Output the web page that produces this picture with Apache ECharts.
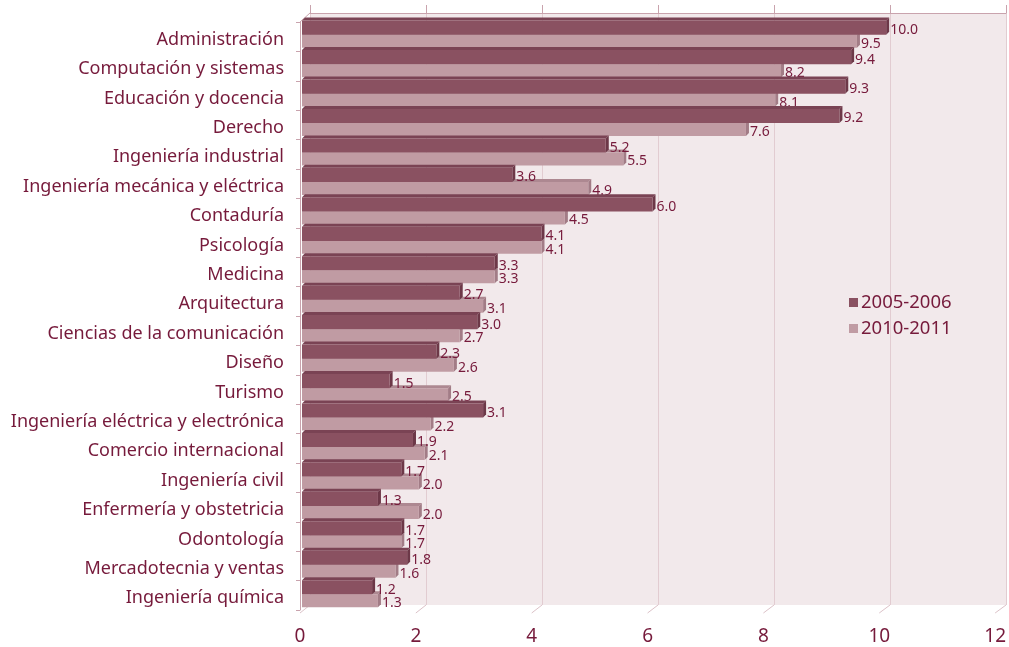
<!DOCTYPE html>
<html><head><meta charset="utf-8">
<script src="https://cdn.jsdelivr.net/npm/echarts@6/dist/echarts.min.js"></script>
<style>html,body{margin:0;padding:0;background:#fff}#c{width:1009px;height:647px}</style>
</head><body><div id="c"></div>
<script>
const categories = ["Administración","Computación y sistemas","Educación y docencia","Derecho","Ingeniería industrial","Ingeniería mecánica y eléctrica","Contaduría","Psicología","Medicina","Arquitectura","Ciencias de la comunicación","Diseño","Turismo","Ingeniería eléctrica y electrónica","Comercio internacional","Ingeniería civil","Enfermería y obstetricia","Odontología","Mercadotecnia y ventas","Ingeniería química"];
const series2005 = [10.0,9.4,9.3,9.2,5.2,3.6,6.0,4.1,3.3,2.7,3.0,2.3,1.5,3.1,1.9,1.7,1.3,1.7,1.8,1.2];
const series2010 = [9.5,8.2,8.1,7.6,5.5,4.9,4.5,4.1,3.3,3.1,2.7,2.6,2.5,2.2,2.1,2.0,2.0,1.7,1.6,1.3];
const seriesNames = ["2005-2006","2010-2011"];
const xTicks = [0,2,4,6,8,10,12];

const W = 1009, H = 647;
const TXT = '#761a3b';
const FONT = '"Noto Sans", sans-serif';
const G0 = {left:310, right:3, top:13, bottom:42};   // back wall
const G1 = {left:300, right:13, top:22, bottom:37};  // front axes
const G2 = {left:302, right:6, top:20, bottom:38};   // bars
const G3 = {left:300, right:13, top:25, bottom:34};  // category labels
const D = 3;
const styles = [
  {front:'#8a5161', top:'#7a4354', side:'#6d3848', off:-0.48, h:0.48},
  {front:'#c09ba3', top:'#ad8891', side:'#a27c86', off:0.0, h:0.44}
];

function makeRender(si){
  const st = styles[si];
  return function(params, api){
    const v = api.value(0), ci = api.value(1);
    const p0 = api.coord([0, ci]);
    const p1 = api.coord([v, ci]);
    const bw = api.size([0,1])[1];
    const x = p0[0], w = p1[0]-p0[0];
    const y0 = p0[1] + st.off*bw, h = st.h*bw;
    return {type:'group', children:[
      {type:'polygon', shape:{points:[[x,y0],[x+D,y0-D],[x+w+D,y0-D],[x+w,y0]]}, style:{fill:st.top}},
      {type:'polygon', shape:{points:[[x+w,y0],[x+w+D,y0-D],[x+w+D,y0+h-D],[x+w,y0+h]]}, style:{fill:st.side}},
      {type:'rect', shape:{x:x, y:y0, width:w, height:h}, style:{fill:st.front}},
      {type:'text', style:{text:v.toFixed(1), x:x+w+D+1, y:y0+h/2+2.5, fill:TXT, font:'14px '+FONT, align:'left', verticalAlign:'middle'}}
    ]};
  };
}

const chart = echarts.init(document.getElementById('c'), null, {renderer:'canvas'});
const option = {
  animation:false,
  backgroundColor:'#ffffff',
  grid:[
    Object.assign({show:true, backgroundColor:'#f2e9eb', borderWidth:0}, G0),
    Object.assign({}, G1),
    Object.assign({}, G2),
    Object.assign({}, G3)
  ],
  xAxis:[
    {gridIndex:0, type:'value', position:'top', min:0, max:12, interval:2,
     axisLine:{show:true, lineStyle:{color:'#c9a3ad', width:1}},
     axisTick:{show:true, length:8, lineStyle:{color:'#c9a3ad'}},
     axisLabel:{show:false},
     splitLine:{show:true, lineStyle:{color:'#e2ccd1', width:1}}},
    {gridIndex:1, type:'value', min:0, max:12, interval:2,
     axisLine:{show:false}, axisTick:{show:false}, splitLine:{show:false},
     axisLabel:{show:true, color:TXT, fontSize:19, fontFamily:FONT, margin:17}},
    {gridIndex:2, type:'value', min:0, max:12, show:false},
    {gridIndex:3, type:'value', min:0, max:12, show:false}
  ],
  yAxis:[
    {gridIndex:0, type:'category', data:categories, inverse:true, show:false},
    {gridIndex:1, type:'category', data:categories, inverse:true,
     axisLine:{show:true, lineStyle:{color:'#c9a3ad'}},
     axisTick:{show:true, length:4, lineStyle:{color:'#c9a3ad'}},
     axisLabel:{show:false},
     splitLine:{show:false}},
    {gridIndex:2, type:'category', data:categories, inverse:true, show:false},
    {gridIndex:3, type:'category', data:categories, inverse:true,
     axisLine:{show:false}, axisTick:{show:false}, splitLine:{show:false},
     axisLabel:{color:TXT, fontSize:18, fontFamily:FONT, margin:16}}
  ],
  legend:{
    orient:'vertical', left:844, top:288, itemGap:7,
    icon:'rect', itemWidth:9, itemHeight:9,
    data:seriesNames,
    textStyle:{color:TXT, fontSize:18.5, fontFamily:FONT, padding:[0,0,0,-2]}
  },
  series:[
    {name:seriesNames[1], type:'custom', xAxisIndex:2, yAxisIndex:2, z:2,
     itemStyle:{color:styles[1].front},
     renderItem:makeRender(1), encode:{x:0, y:1},
     data:series2010.map((v,i)=>[v,i])},
    {name:seriesNames[0], type:'custom', xAxisIndex:2, yAxisIndex:2, z:3,
     itemStyle:{color:styles[0].front},
     renderItem:makeRender(0), encode:{x:0, y:1},
     data:series2005.map((v,i)=>[v,i])}
  ]
};
chart.setOption(option);

// floor depth lines and left-wall corner, positioned through the axes
const frontY = H - G1.bottom, backY = H - G0.bottom;
const gfx = [];
xTicks.forEach(t=>{
  const fx = chart.convertToPixel({xAxisIndex:1}, t);
  const bx = chart.convertToPixel({xAxisIndex:0}, t);
  gfx.push({type:'line', shape:{x1:fx, y1:frontY+3, x2:bx, y2:backY}, style:{stroke:'#dcc2c8', lineWidth:1}, silent:true});
});
const fx0 = chart.convertToPixel({xAxisIndex:1}, 0);
const bx0 = chart.convertToPixel({xAxisIndex:0}, 0);
gfx.push({type:'line', shape:{x1:fx0, y1:G1.top, x2:bx0, y2:G0.top}, style:{stroke:'#c9a3ad', lineWidth:1}, silent:true});
chart.setOption({graphic:gfx});
</script>
</body></html>
